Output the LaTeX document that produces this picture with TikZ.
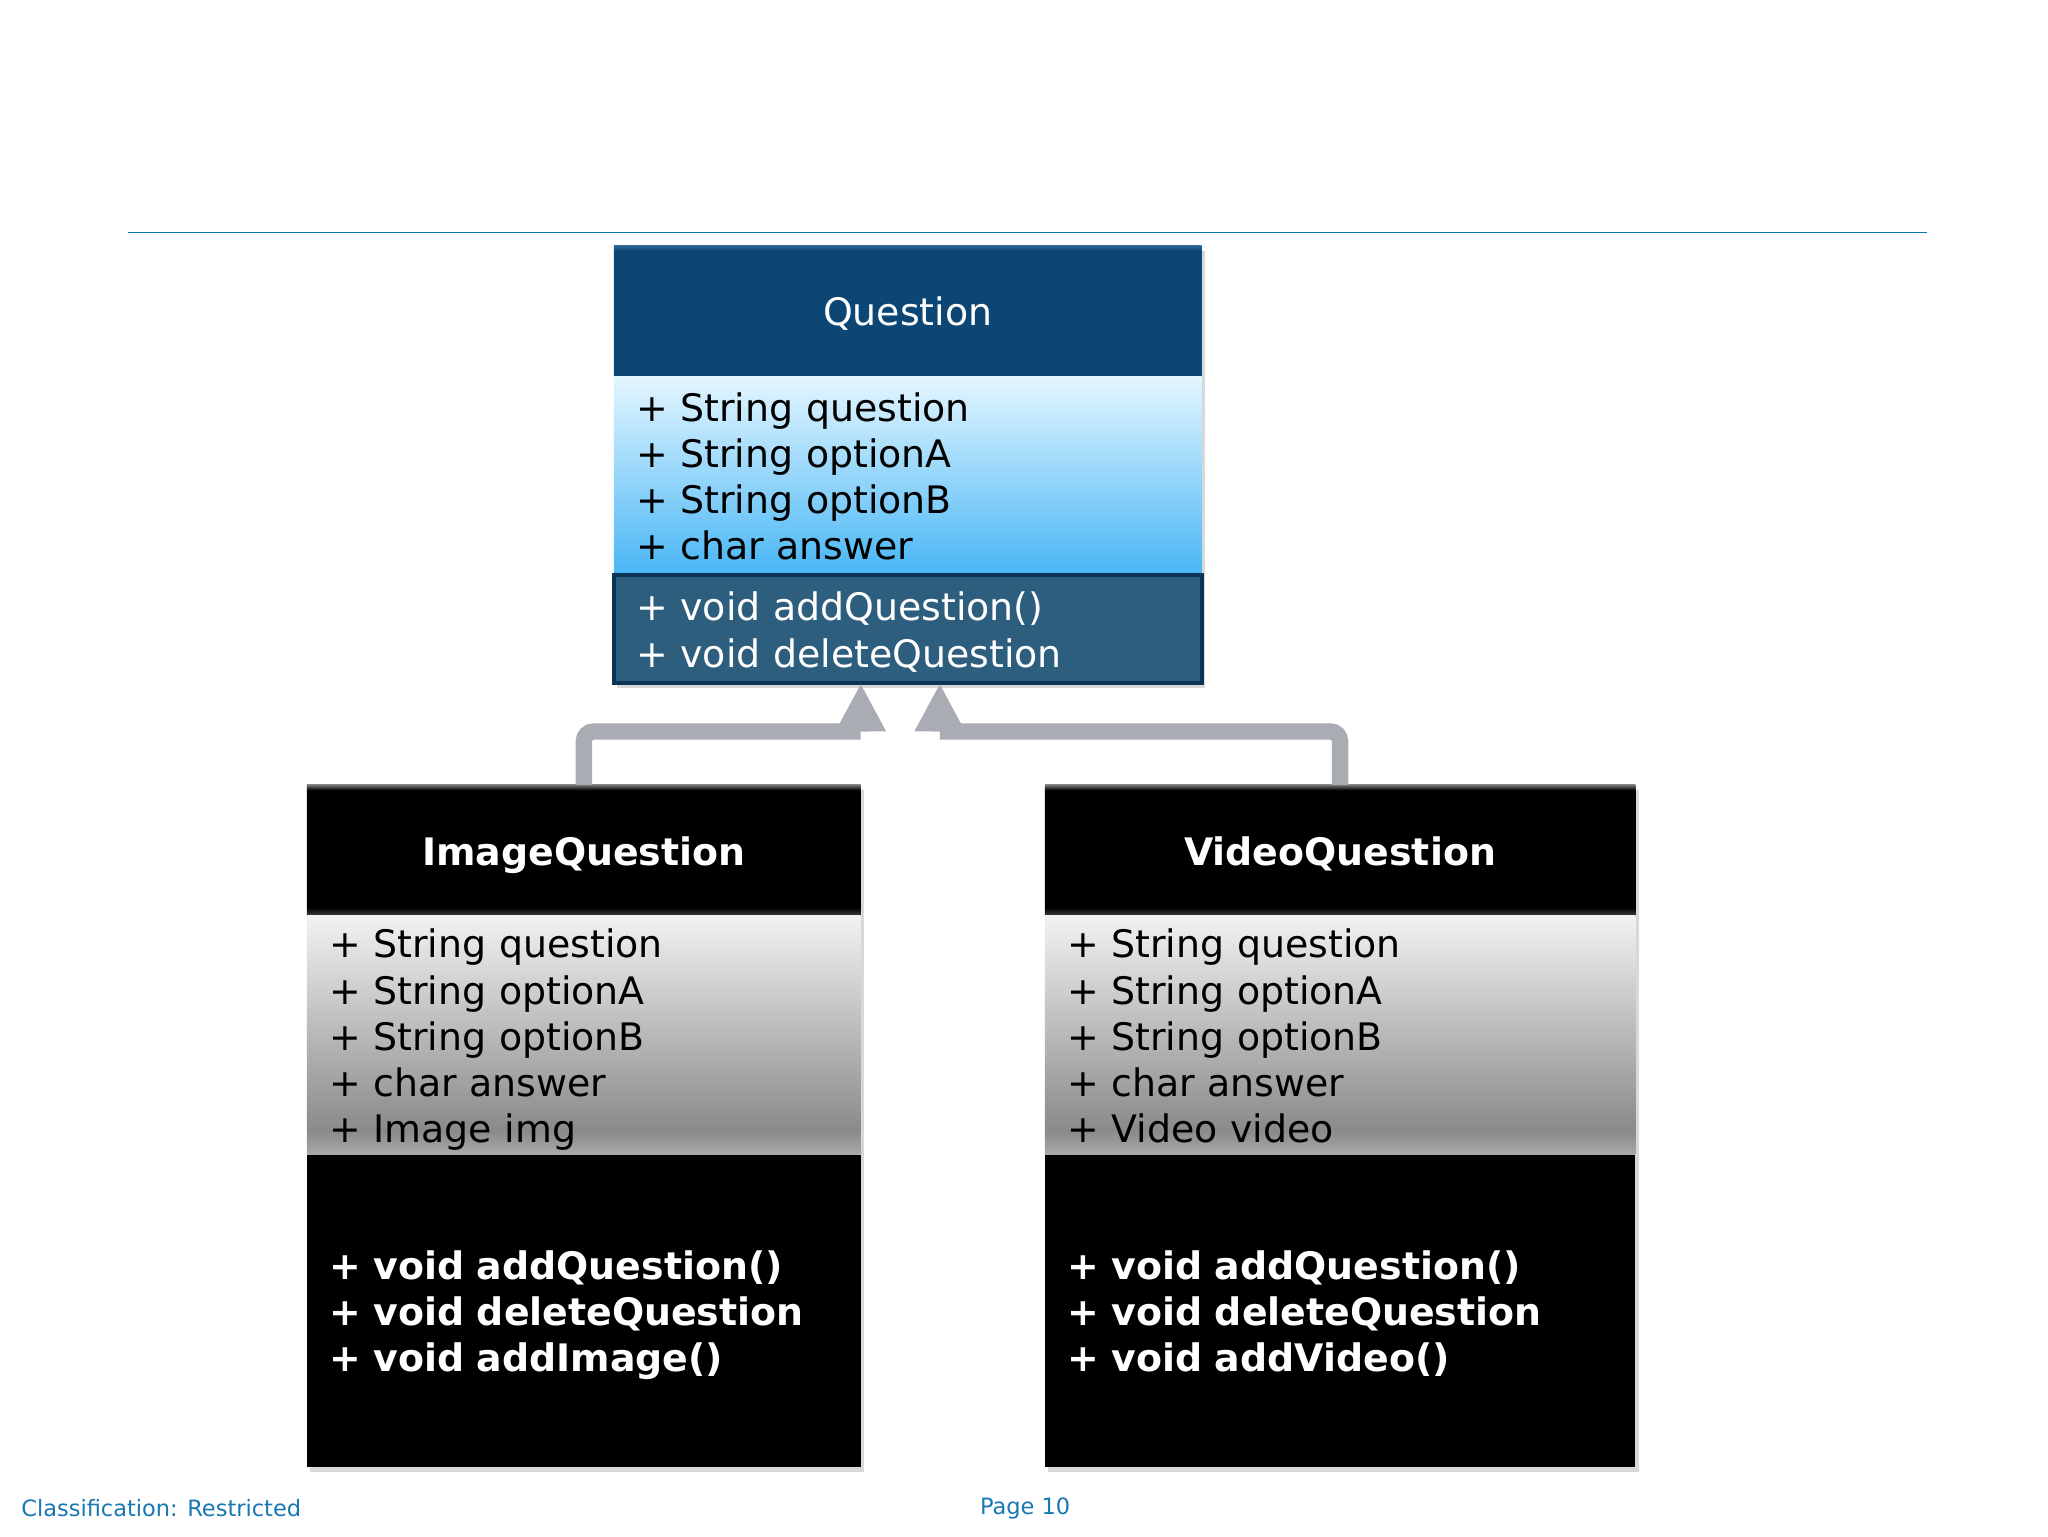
\documentclass[tikz,border=0pt]{standalone}
\usepackage{fontspec}
\setmainfont{DejaVu Sans}
\definecolor{rulebl}{RGB}{0, 122, 184}
\definecolor{footbl}{RGB}{25, 120, 180}
\definecolor{navyhead}{RGB}{11, 70, 116}
\definecolor{navytop}{RGB}{45, 105, 150}
\definecolor{attrtop}{RGB}{228, 246, 255}
\definecolor{attrbot}{RGB}{72, 182, 245}
\definecolor{methblue}{RGB}{46, 94, 126}
\definecolor{methedge}{RGB}{12, 52, 84}
\definecolor{conngray}{RGB}{169, 173, 179}
\definecolor{gtop}{RGB}{242, 242, 242}
\definecolor{gdark}{RGB}{138, 138, 138}
\definecolor{glow}{RGB}{170, 170, 170}
\usetikzlibrary{arrows.meta, positioning, shadows}

\pgfdeclareverticalshading{grayattr}{100bp}{color(0bp)=(glow); color(25bp)=(glow); color(30bp)=(gdark); color(75bp)=(gtop); color(100bp)=(gtop)}
\pgfdeclareverticalshading{blackhead}{100bp}{color(0bp)=(black!75); color(25bp)=(black!75); color(28bp)=(black); color(73bp)=(black); color(75bp)=(black!55); color(100bp)=(black!55)}
\pgfdeclareverticalshading{navyshade}{100bp}{color(0bp)=(navyhead); color(73bp)=(navyhead); color(75bp)=(navytop); color(100bp)=(navytop)}

\newcommand{\classfont}{\fontsize{16.5}{20.1}\selectfont}

\begin{document}
\begin{tikzpicture}[
    box/.style={rectangle, outer sep=0pt, inner xsep=0.34cm, inner ysep=0pt, align=left,
      execute at begin node={\rule{0pt}{0.6cm}},
      execute at end node={\rule[-0.24em]{0pt}{0pt}},
      drop shadow={shadow xshift=0.05cm, shadow yshift=-0.08cm, opacity=0.3}},
    qhead/.style={box, shading=navyshade, text=white, font=\classfont, align=center},
    qattr/.style={box, top color=attrtop, bottom color=attrbot, text=black, font=\classfont},
    qmeth/.style={box, fill=methblue, draw=methedge, line width=0.06cm, text=white, font=\classfont},
    shead/.style={box, shading=blackhead, text=white, font=\classfont\bfseries, align=center},
    sattr/.style={box, shading=grayattr, text=black, font=\classfont},
    smeth/.style={box, fill=black, text=white, font=\classfont\bfseries},
    conn/.style={draw=conngray, line width=0.25cm, rounded corners=0.15cm,
      -{Triangle[length=0.74cm, width=0.72cm]}},
    foot/.style={font=\fontsize{9.8}{12}\selectfont, text=footbl, anchor=west, inner sep=0pt}
  ]
  \useasboundingbox[fill=white] (0,0) rectangle (31.36,-23.52);

  % top rule
  \draw[rulebl, line width=0.03cm] (1.96,-3.56) -- (29.5,-3.56);

  % Question class
  \node[qhead, minimum width=9cm, minimum height=2cm, anchor=north west] (qhead) at (9.4,-3.76) {Question};
  \node[qattr, text width=8.32cm, minimum height=3.04cm, below=0pt of qhead] (qattr) {%
    + String question\\+ String optionA\\+ String optionB\\+ char answer};
  \node[qmeth, text width=8.32cm, minimum height=1.66cm, below=0pt of qattr] (qmeth) {%
    + void addQuestion()\\+ void deleteQuestion};

  % ImageQuestion class
  \node[shead, minimum width=8.48cm, minimum height=2cm, anchor=north west] (iqhead) at (4.7,-12.02) {ImageQuestion};
  \node[sattr, text width=7.8cm, minimum height=3.66cm, below=0pt of iqhead] (iqattr) {%
    + String question\\+ String optionA\\+ String optionB\\+ char answer\\+ Image img};
  \node[smeth, text width=7.8cm, minimum height=4.78cm, below=0pt of iqattr] (iqmeth) {%
    + void addQuestion()\\+ void deleteQuestion\\+ void addImage()};

  % VideoQuestion class
  \node[shead, minimum width=9.04cm, minimum height=2cm, anchor=north west] (vqhead) at (16,-12.02) {VideoQuestion};
  \node[sattr, text width=8.36cm, minimum height=3.66cm, below=0pt of vqhead] (vqattr) {%
    + String question\\+ String optionA\\+ String optionB\\+ char answer\\+ Video video};
  \node[smeth, text width=8.36cm, minimum height=4.78cm, below=0pt of vqattr] (vqmeth) {%
    + void addQuestion()\\+ void deleteQuestion\\+ void addVideo()};

  % inheritance
  \coordinate (jl) at (13.18,-11.2);
  \coordinate (jr) at (14.39,-11.2);
  \draw[conn] (iqhead.north) |- (jl) (jl) -- (jl |- qmeth.south);
  \draw[conn] (vqhead.north) |- (jr) (jr) -- (jr |- qmeth.south);

  % footer
  \node[foot] (cls) at (0.32,-23.1) {Classification: Restricted};
  \node[foot] (pg) at (15,-23.1) {Page 10};
\end{tikzpicture}
\end{document}
